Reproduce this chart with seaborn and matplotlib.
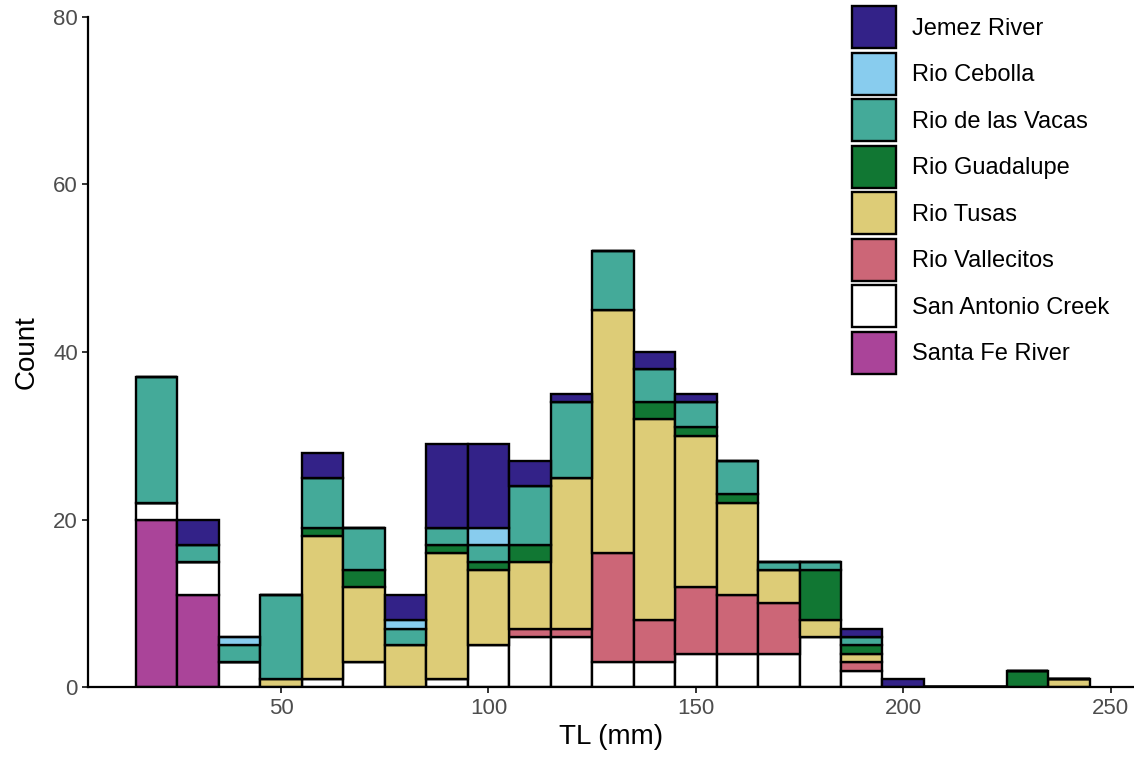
import numpy as np
import pandas as pd
import seaborn as sns
import matplotlib.pyplot as plt

sns.set_theme(style='ticks')
plt.rcParams['font.family'] = ['Liberation Sans', 'DejaVu Sans']
plt.rcParams['text.color'] = 'black'
plt.rcParams['axes.labelcolor'] = 'black'

#::: data (counts per 10 mm bin)
bin_centers = [20, 30, 40, 50, 60, 70, 80, 90, 100, 110, 120, 130,
               140, 150, 160, 170, 180, 190, 200, 210, 220, 230, 240]
sites = ['Jemez River', 'Rio Cebolla', 'Rio de las Vacas', 'Rio Guadalupe',
         'Rio Tusas', 'Rio Vallecitos', 'San Antonio Creek', 'Santa Fe River']
site_colors = ['#332288', '#88CCEE', '#44AA99', '#117733',
               '#DDCC77', '#CC6677', '#FFFFFF', '#AA4499']

jemez = [0, 3, 0, 0, 3, 0, 3, 10, 10, 3, 1, 0, 2, 1, 0, 0, 0, 1, 1, 0, 0, 0, 0]
cebolla = [0, 0, 1, 0, 0, 0, 1, 0, 2, 0, 0, 0, 0, 0, 0, 0, 0, 0, 0, 0, 0, 0, 0]
vacas = [15, 2, 2, 10, 6, 5, 2, 2, 2, 7, 9, 7, 4, 3, 4, 1, 1, 1, 0, 0, 0, 0, 0]
guadalupe = [0, 0, 0, 0, 1, 2, 0, 1, 1, 2, 0, 0, 2, 1, 1, 0, 6, 1, 0, 0, 0, 2, 0]
tusas = [0, 0, 0, 1, 17, 9, 5, 15, 9, 8, 18, 29, 24, 18, 11, 4, 2, 1, 0, 0, 0, 0, 1]
vallecitos = [0, 0, 0, 0, 0, 0, 0, 0, 0, 1, 1, 13, 5, 8, 7, 6, 0, 1, 0, 0, 0, 0, 0]
san_antonio = [2, 4, 3, 0, 1, 3, 0, 1, 5, 6, 6, 3, 3, 4, 4, 4, 6, 2, 0, 0, 0, 0, 0]
santa_fe = [20, 11, 0, 0, 0, 0, 0, 0, 0, 0, 0, 0, 0, 0, 0, 0, 0, 0, 0, 0, 0, 0, 0]

counts = [jemez, cebolla, vacas, guadalupe, tusas, vallecitos, san_antonio, santa_fe]
df = pd.concat([pd.DataFrame({'TL': bin_centers, 'site': s, 'n': c})
                for s, c in zip(sites, counts)], ignore_index=True)

#::: plot
fig = plt.figure(figsize=(11.34, 7.59), dpi=100)
ax = fig.add_axes([88.3 / 1134, (759 - 687.3) / 759, 1 - 88.3 / 1134, (687.3 - 16.5) / 759])

sns.histplot(data=df, x='TL', weights='n', hue='site', hue_order=sites,
             palette=dict(zip(sites, site_colors)), binwidth=10, binrange=(15, 245),
             multiple='stack', alpha=1, edgecolor='black', linewidth=1.7, ax=ax)

ax.set_xlim(3.5, 3.5 + (1134 - 88.3) / 4.147)
ax.set_ylim(0, 80)
ax.set_xticks([50, 100, 150, 200, 250])
ax.set_yticks([0, 20, 40, 60, 80])
ax.set_xlabel('TL (mm)', fontsize=20, labelpad=4, color='black')
ax.set_ylabel('Count', fontsize=20, labelpad=10, color='black')
ax.tick_params(labelsize=16, colors='#333333', labelcolor='#4D4D4D', length=4, width=1.4)
sns.despine(ax=ax)
for sp in ['left', 'bottom']:
    ax.spines[sp].set_linewidth(1.6)
    ax.spines[sp].set_color('black')

sns.move_legend(ax, loc='upper left', bbox_to_anchor=((852 - 88.3) / (1134 - 88.3), 1.015),
                frameon=False, title=None, fontsize=17, handlelength=1.85, handleheight=2.36,
                labelspacing=0.19, handletextpad=0.7, borderpad=0, borderaxespad=0,
                labelcolor='black')
for h in ax.get_legend().get_patches():
    h.set_edgecolor('black')
    h.set_linewidth(1.7)

plt.savefig('out.png', dpi=100)
